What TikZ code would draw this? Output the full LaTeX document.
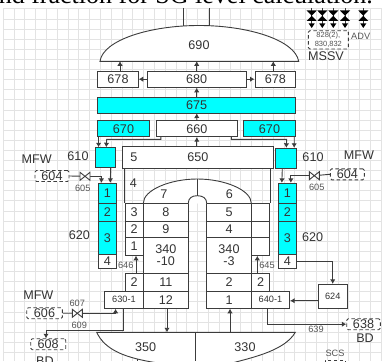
\documentclass[tikz,border=0pt]{standalone}
\usepackage{fontspec}
\setmainfont{Liberation Sans}
\newfontfamily\headfont{Liberation Serif}
\usepackage{xcolor}
\usetikzlibrary{arrows.meta,positioning}
\definecolor{linegray}{HTML}{3C3C3C}
\definecolor{textgray}{HTML}{333333}
\definecolor{labelgray}{HTML}{555555}
\definecolor{tankcyan}{HTML}{00FFFF}
\newcommand{\drawvalve}[1]{%
    \draw[valveline, fill=white] ([shift={(-5,-4)}]#1) -- ([shift={(5,4)}]#1) -- ([shift={(5,-4)}]#1) -- ([shift={(-5,4)}]#1) -- cycle;}
\begin{document}
\begin{tikzpicture}[
    x=1pt, y=-1pt,
    box/.style={
        draw=linegray,
        line width=0.9pt,
        fill=white,
        text=textgray,
        align=center,
        inner sep=0pt,
        font=\fontsize{12.6}{13}\selectfont
    },
    cyanbox/.style={box, fill=tankcyan},
    smallbox/.style={box, font=\fontsize{9.2}{10}\selectfont},
    dashbox/.style={box, rounded corners=1.5pt, dash pattern=on 3.5pt off 2.5pt, minimum height=11pt},
    tag/.style={text=textgray, inner sep=0pt, align=center, font=\fontsize{12.6}{13}\selectfont},
    smalltag/.style={text=labelgray, inner sep=0pt, align=center, font=\fontsize{9.2}{10}\selectfont},
    wire/.style={draw=linegray, line width=0.9pt},
    arrow/.style={wire, -{Latex[length=4.5pt,width=5.5pt]}},
    vessel/.style={draw=linegray, line width=0.9pt, fill=white},
    valveline/.style={draw=linegray, line width=0.9pt},
    gridline/.style={draw=gray!22, line width=0.6pt}
]
\path[clip, use as bounding box] (0,0) rectangle (382,361);

% sheet grid
\foreach \gx in {3,13.8,...,382} {\draw[gridline] (\gx,8) -- (\gx,361);}
\foreach \gy in {8.8,18.9,...,361} {\draw[gridline] (3,\gy) -- (382,\gy);}

\node[anchor=base east, inner sep=0pt, font=\fontsize{26}{26}\selectfont\headfont] (heading) at (373,4) {nd fraction for SG level calculation.};

% steam dome and the lines leaving it
\coordinate (domebase) at (199,61.3);
\coordinate (stemA) at (183,8);
\coordinate (stemB) at (209,8);
\draw[vessel] (100,61.3) .. controls (103,40) and (150,25.5) .. (199,25.5) .. controls (248,25.5) and (295,40) .. (298.7,61.3) -- cycle;
\draw[wire] (stemA) -- (183,26);
\draw[wire] (stemB) -- (209,26);
\node[tag] (dome) at (199,45) {690};

% upper boxes
\node[box, minimum width=40.6pt, minimum height=16.3pt] (sepL) at (118,79.2) {678};
\node[box, minimum width=98.7pt, minimum height=16.3pt] (sepC) at (196.7,79.2) {680};
\node[box, minimum width=40.7pt, minimum height=16.3pt] (sepR) at (275.3,79.2) {678};
\node[cyanbox, minimum width=198pt, minimum height=15.7pt] (dryer) at (196.7,105.2) {675};
\node[cyanbox, minimum width=51.6pt, minimum height=16pt] (headL) at (123.5,128.7) {670};
\node[box, minimum width=81.7pt, minimum height=16pt] (deck) at (196.8,128.7) {660};
\node[cyanbox, minimum width=52.4pt, minimum height=16pt] (headR) at (269.5,128.7) {670};
\node[box, minimum width=151pt, minimum height=21.6pt] (plate) at (197.8,157.5) {650};
\node[tag] (plateA) at (134,157) {5};
\node[cyanbox, minimum width=20.4pt, minimum height=20pt] (inletL) at (105.5,157.7) {};
\node[cyanbox, minimum width=20.6pt, minimum height=19.7pt] (inletR) at (286,158.1) {};

% outer stacks
\node[cyanbox, minimum width=18pt, minimum height=20pt] (stackLa) at (107.3,193.3) {1};
\node[cyanbox, minimum width=18pt, minimum height=18pt] (stackLb) at (107.3,212.3) {2};
\node[cyanbox, minimum width=18pt, minimum height=33pt] (stackLc) at (107.3,237.8) {3};
\node[box, minimum width=18pt, minimum height=14pt] (stackLd) at (107.3,261.3) {4};
\node[cyanbox, minimum width=18pt, minimum height=20pt] (stackRa) at (287.3,193.3) {1};
\node[cyanbox, minimum width=18pt, minimum height=18pt] (stackRb) at (287.3,212.3) {2};
\node[cyanbox, minimum width=18pt, minimum height=33pt] (stackRc) at (287.3,237.8) {3};
\node[box, minimum width=18pt, minimum height=14pt] (stackRd) at (287.3,261.3) {4};

% inner vessel, left side
\draw[vessel] (143.3,203.3) .. controls (143.3,190) and (170,179) .. (197.3,179) .. controls (224.6,179) and (251.3,190) .. (251.3,203.3);
\node[box, minimum width=18.3pt, minimum height=18.4pt] (wallLc) at (134.2,212.5) {3};
\node[box, minimum width=18.3pt, minimum height=15.6pt] (wallLb) at (134.2,229.5) {2};
\node[box, minimum width=18.3pt, minimum height=18pt] (wallLa) at (134.2,246.3) {1};
\node[box, minimum width=45pt, minimum height=18.4pt] (coreA) at (165.8,212.5) {8};
\node[box, minimum width=45pt, minimum height=15.6pt] (coreB) at (165.8,229.5) {9};
\node[box, minimum width=45pt, minimum height=36pt] (coreC) at (165.8,255.3) {340\\[-1pt]-10};
\node[box, minimum width=45pt, minimum height=18pt] (coreD) at (165.8,282.3) {11};
\node[box, minimum width=45pt, minimum height=17pt] (coreE) at (165.8,299.8) {12};
\node[box, minimum width=18.3pt, minimum height=18pt] (baseL) at (134.2,282.3) {2};
\node[smallbox, minimum width=38.6pt, minimum height=17pt] (outL) at (124,299.8) {630-1};
% inner vessel, right side
\node[box, minimum width=18.4pt, minimum height=18pt] (wallRc) at (260.5,212.3) {};
\node[box, minimum width=18.4pt, minimum height=16pt] (wallRb) at (260.5,229.3) {};
\node[box, minimum width=18.4pt, minimum height=18pt] (wallRa) at (260.5,246.3) {};
\node[box, minimum width=44.6pt, minimum height=18pt] (coreF) at (229,212.3) {5};
\node[box, minimum width=44.6pt, minimum height=16pt] (coreG) at (229,229.3) {4};
\node[box, minimum width=44.6pt, minimum height=36.4pt] (coreH) at (229,255.5) {340\\[-1pt]-3};
\node[box, minimum width=44.6pt, minimum height=17.6pt] (coreI) at (229,282.5) {2};
\node[box, minimum width=44.6pt, minimum height=17pt] (coreJ) at (229,299.8) {1};
\node[box, minimum width=18.4pt, minimum height=17.6pt] (baseR) at (260.5,282.5) {2};
\node[smallbox, minimum width=38.4pt, minimum height=17pt] (outR) at (270.5,299.8) {640-1};
\draw[vessel] (188.3,203.3) .. controls (188.3,198) and (192,195.7) .. (197.3,195.7) .. controls (202.6,195.7) and (206.7,198) .. (206.7,203.3);
\draw[wire] (197.3,179) -- (197.3,195.7);
\draw[wire] ([xshift=2.7pt]plate.south west) -- (wallLc.north west);
\draw[wire] ([xshift=-3.6pt]plate.south east) -- (wallRc.north east);
\node[tag] (labelFour) at (133.3,183.3) {4};
\node[tag] (labelSeven) at (164,194.3) {7};
\node[tag] (labelSix) at (229.3,194.3) {6};

% lower drums
\coordinate (drumbase) at (195,332.3);
\draw[vessel] (96.7,332.3) -- (295.3,332.3) .. controls (285,350) and (255,357) .. (232,363) -- (158,363) .. controls (125,358) and (105,350) .. (96.7,332.3) -- cycle;
\draw[wire] (drumbase) -- (195,361);
\draw[wire] (137.3,358.5) -- (137.3,361);
\node[tag] (drumL) at (145.7,347.3) {350};
\node[tag] (drumR) at (245,347.3) {330};

% side equipment
\node[smallbox, minimum width=29.3pt, minimum height=24pt] (pump) at (332.7,296.3) {624};
\node[dashbox, minimum width=34pt] (feedL) at (52,176) {604};
\node[dashbox, minimum width=34pt] (feedR) at (347.3,174.3) {604};
\node[dashbox, minimum width=35.6pt] (feedLow) at (44.5,313.2) {606};
\node[dashbox, minimum width=35pt] (drainL) at (48.2,344.2) {608};
\node[dashbox, minimum width=33.6pt] (drainR) at (363.5,324.2) {638};
\coordinate (valveL) at (85,176.3);
\coordinate (valveR) at (314.3,175.7);
\coordinate (valveLow) at (77.3,313.3);

% arrows
\draw[arrow] (sepL.north) ++(2,0) -- (120,61.3);
\draw[arrow] (sepC.north) -- (sepC.north |- domebase);
\draw[arrow] (sepR.north) ++(-2,0) -- (273.3,61.3);
\draw[arrow] (sepC.west) -- (sepL.east);
\draw[arrow] (sepC.east) -- (sepR.west);
\draw[arrow] (dryer.north) -- (sepC.south);
\draw[arrow] (deck.north) -- (dryer.south);
\draw[arrow] (plate.north -| deck.north) -- (deck.south);
\draw[arrow] ([xshift=1.3pt]headL.south west) -- ([xshift=3.7pt]inletL.north west);
\draw[arrow] ([xshift=5.3pt]deck.south west) |- (106.7,139.3) -- ([xshift=11.4pt]inletL.north west);
\draw[arrow] ([xshift=-1.9pt]headR.south east) -- ([xshift=-2.6pt]inletR.north east);
\draw[arrow] ([xshift=-6.7pt]deck.south east) |- (286.7,139.3) -- ([xshift=11pt]inletR.north west);
\draw[arrow] (inletL.south -| 110.7,0) -- ([xshift=12.4pt]stackLa.north west);
\draw[arrow] (inletR.south -| 282.3,0) -- ([xshift=4pt]stackRa.north west);
\draw[wire] (feedL.east) -- (valveL);
\draw[arrow] (valveL) -| ([xshift=3.6pt]stackLa.north west);
\draw[wire] (feedR.west) -- (valveR);
\draw[arrow] (valveR) -| ([xshift=13pt]stackRa.north west);
\draw[arrow] ([xshift=1.8pt]baseL.north) -- ([xshift=1.8pt]wallLa.south);
\draw[arrow] ([xshift=-3.2pt]baseR.north) -- ([xshift=-3.2pt]wallRa.south);
\draw[wire] (feedLow.east) -- (valveLow);
\draw[arrow] (valveLow) -| ([xshift=11.3pt]outL.south west);
\draw[arrow] ([xshift=19.6pt]outL.south west) |- (46,330) -- (drainL.north -| 46,0);
\draw[arrow] (coreE.south -| 167,0) -- (167,332.3);
\draw[arrow] (230,332.3) -- (coreJ.south -| 230,0);
\draw[arrow] (stackRd.east) -| (pump.north);
\draw[arrow] (pump.west |- 0,300.7) -- (outR.east |- 0,300.7);
\draw[arrow] (outR.south -| 267,0) |- (drainR.west);
\drawvalve{valveL}
\drawvalve{valveR}
\drawvalve{valveLow}

% relief valves on top
\foreach \vx in {311.7,322.3,333.3,345,363.3} {
    \draw[wire] (\vx,8) -- (\vx,26);
    \fill[black] (\vx-5,10.5) -- (\vx+5,10.5) -- (\vx-5,21) -- (\vx+5,21) -- cycle;
    \fill[black] (\vx-3,23.5) -- (\vx+3,23.5) -- (\vx,28) -- cycle;
}
\node[box, rounded corners=1.5pt, dash pattern=on 3.5pt off 2.5pt, minimum width=40pt, minimum height=18.3pt, font=\fontsize{7.5}{8.6}\selectfont, text=labelgray] (reliefbox) at (328.3,39.9) {828(2),\\830,832};

% labels
\node[smalltag] (tagADV) at (360.7,36.7) {ADV};
\node[tag] (tagMSSV) at (326,56) {MSSV};
\node[tag] (tagInL) at (78,155.7) {610};
\node[tag] (tagInR) at (313,157) {610};
\node[tag] (tagMfwL) at (36.7,159) {MFW};
\node[tag] (tagMfwR) at (359,155) {MFW};
\node[smalltag] (tagVlvL) at (82.7,188) {605};
\node[smalltag] (tagVlvR) at (316.7,187.3) {605};
\node[tag] (tagStackL) at (79.3,235) {620};
\node[tag] (tagStackR) at (312.7,236.7) {620};
\node[smalltag] (tagRiseL) at (125.7,265.3) {646};
\node[smalltag] (tagRiseR) at (267,265.3) {645};
\node[tag] (tagMfwLow) at (38.3,294.7) {MFW};
\node[smalltag] (tagLowV) at (77.3,303) {607};
\node[smalltag] (tagLowD) at (79.3,325) {609};
\node[smalltag] (tagOutR) at (316,329.3) {639};
\node[tag] (tagBdR) at (365,337.7) {BD};
\node[tag] (tagBdL) at (45,361) {BD};
\node[smalltag] (tagScs) at (335,353.3) {SCS};
\node[box, dash pattern=on 3.5pt off 2.5pt, fill=white, minimum width=20pt, minimum height=8pt] (scsbox) at (335,364) {};
\end{tikzpicture}
\end{document}
